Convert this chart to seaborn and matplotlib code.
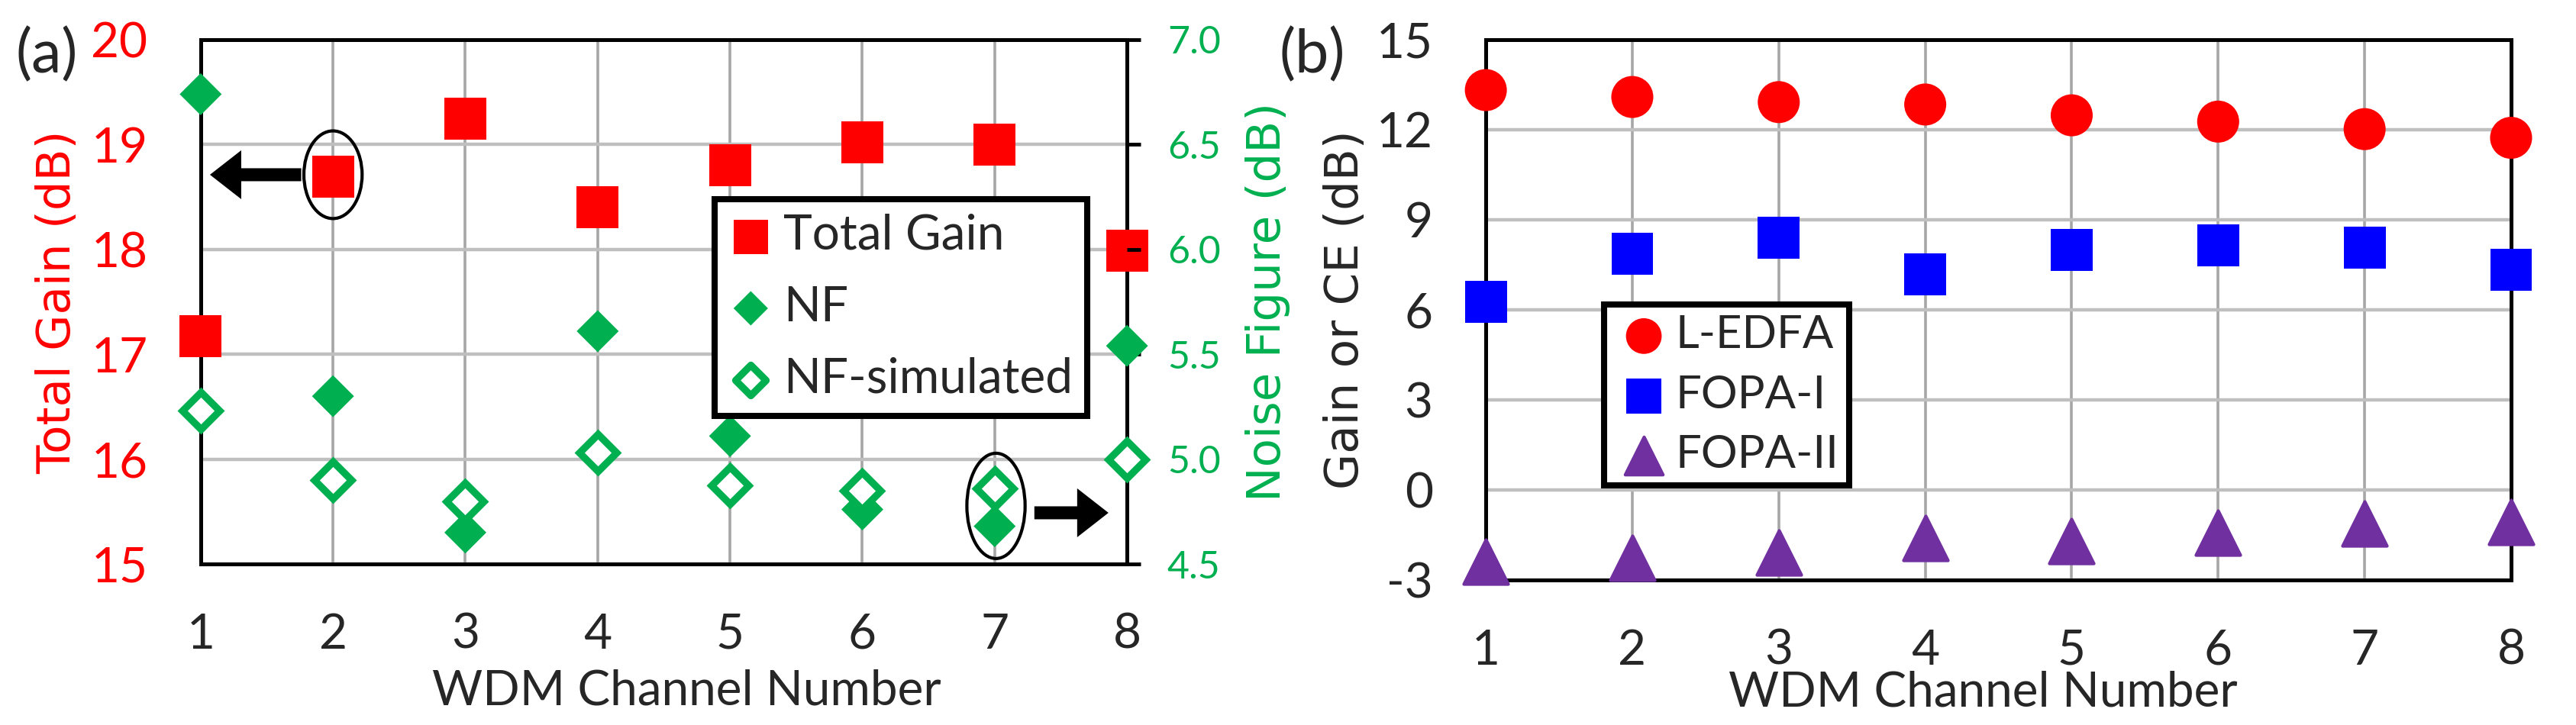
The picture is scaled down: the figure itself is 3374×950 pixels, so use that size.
import matplotlib
matplotlib.use("Agg")
import matplotlib.pyplot as plt
import seaborn as sns
from matplotlib.patches import Ellipse
from matplotlib.ticker import FormatStrFormatter

# ---- data ----
channels = [1, 2, 3, 4, 5, 6, 7, 8]

# panel (a)
total_gain = [17.17, 18.69, 19.25, 18.40, 18.80, 19.02, 19.00, 17.99]
nf = [6.74, 5.30, 4.65, 5.61, 5.11, 4.76, 4.68, 5.54]
nf_sim = [5.23, 4.90, 4.80, 5.03, 4.875, 4.85, 4.86, 5.00]

# panel (b)
l_edfa = [13.32, 13.09, 12.92, 12.84, 12.48, 12.27, 12.02, 11.73]
fopa_1 = [6.26, 7.87, 8.41, 7.19, 7.99, 8.15, 8.08, 7.33]
fopa_2 = [-2.38, -2.27, -2.09, -1.61, -1.70, -1.42, -1.12, -1.07]

gain_ticks = [15, 16, 17, 18, 19, 20]
nf_ticks = [4.5, 5.0, 5.5, 6.0, 6.5, 7.0]
ce_ticks = [-3, 0, 3, 6, 9, 12, 15]

RED = "#FF0000"
GREEN = "#00B050"
BLUE = "#0000FF"
PURPLE = "#7030A0"
HGRID = "#BFBFBF"
VGRID = "#A6A6A6"

sns.set_style("white")
plt.rcParams["font.family"] = ["Lato", "DejaVu Sans"]
plt.rcParams["axes.unicode_minus"] = False

TICK_FS = 46
LABEL_FS = 46
YLABEL_FS = 44
SPINE_LW = 3.6


def style_axes(ax):
    for sp in ax.spines.values():
        sp.set_color("black")
        sp.set_linewidth(SPINE_LW)
    ax.set_xlim(1, 8)
    ax.set_xticks(channels)
    ax.tick_params(axis="both", length=0, labelsize=TICK_FS)
    ax.tick_params(axis="x", pad=46)
    ax.tick_params(axis="y", pad=50)
    ax.xaxis.grid(True, color=VGRID, lw=2.6)
    ax.yaxis.grid(True, color=HGRID, lw=3.2)
    ax.set_axisbelow(True)


def style_legend(leg):
    frame = leg.get_frame()
    frame.set_edgecolor("black")
    frame.set_linewidth(5.8)
    frame.set_alpha(1)
    leg.set_zorder(10)


fig = plt.figure(figsize=(33.74, 9.5), dpi=100)

# ---------------- (a) ----------------
ax = fig.add_axes([0.0779, 0.2221, 0.3596, 0.7232])
style_axes(ax)
ax.set_ylim(15, 20)
ax.set_yticks(gain_ticks)
ax.tick_params(axis="y", labelcolor=RED)

sns.scatterplot(x=channels, y=total_gain, marker="s", s=1570, color=RED,
                edgecolor="none", linewidth=0, clip_on=False, zorder=5,
                label="Total Gain", ax=ax, legend=False)

ax2 = ax.twinx()
ax2.set_ylim(4.5, 7.0)
ax2.set_yticks(nf_ticks)
ax2.yaxis.set_major_formatter(FormatStrFormatter("%.1f"))
for sp in ax2.spines.values():
    sp.set_visible(False)
ax2.tick_params(axis="y", direction="out", length=13, width=3.5, color="black",
                labelcolor=GREEN, labelsize=36, pad=25)

sns.scatterplot(x=channels, y=nf, marker="D", s=784, color=GREEN,
                edgecolor="none", linewidth=0, clip_on=False, zorder=5,
                label="NF", ax=ax2, legend=False)
sns.scatterplot(x=channels, y=nf_sim, marker="D", s=612, color="white",
                edgecolor=GREEN, linewidth=6.8, clip_on=False, zorder=5,
                label="NF-simulated", ax=ax2, legend=False)
ax2.collections[-1].set_joinstyle("miter")

ax.set_xlabel("WDM Channel Number", fontsize=LABEL_FS)
ax.xaxis.set_label_coords(0.525, -0.2)
ax.set_ylabel("Total Gain (dB)", fontsize=YLABEL_FS, color=RED,
              family="DejaVu Sans")
ax.yaxis.set_label_coords(-0.154, 0.5)
ax.yaxis.label.set_verticalalignment("center")
ax2.set_ylabel("Noise Figure (dB)", fontsize=YLABEL_FS, color=GREEN,
               family="DejaVu Sans")
ax2.yaxis.set_label_coords(1.152, 0.5)
ax2.yaxis.label.set_verticalalignment("center")
ax2.yaxis.label.set_rotation(90)

# circles and arrows marking which axis each series belongs to
for xy, w, h in [((2.0, 6.356), 0.44, 0.418), ((7.01, 4.777), 0.44, 0.502)]:
    ax2.add_patch(Ellipse(xy, w, h, fill=False, ec="black", lw=3,
                          clip_on=False, zorder=6))
arrow_style = "simple,head_length=0.41,head_width=0.64,tail_width=0.17"
for tip, tail in [((1.07, 6.356), (1.76, 6.356)), ((7.86, 4.744), (7.30, 4.744))]:
    ax2.annotate("", xy=tip, xytext=tail, annotation_clip=False, zorder=6,
                 arrowprops=dict(arrowstyle=arrow_style, mutation_scale=72,
                                 fc="black", ec="none", lw=0,
                                 shrinkA=0, shrinkB=0))

h1, l1 = ax.get_legend_handles_labels()
h2, l2 = ax2.get_legend_handles_labels()
leg = ax2.legend(h1 + h2, l1 + l2, loc="upper left",
                 bbox_to_anchor=(0.555, 0.696), borderaxespad=0,
                 fontsize=46, markerscale=0.82, frameon=True, fancybox=False,
                 framealpha=1, borderpad=0.3, labelspacing=0.56,
                 handlelength=0.875, handletextpad=0.23)
style_legend(leg)

fig.text(0.006, 0.962, "(a)", fontsize=57, ha="left", va="top")

# ---------------- (b) ----------------
bx = fig.add_axes([0.5768, 0.2, 0.398, 0.7453])
style_axes(bx)
bx.set_ylim(-3, 15)
bx.set_yticks(ce_ticks)

sns.scatterplot(x=channels, y=l_edfa, marker="o", s=1570, color=RED,
                edgecolor="none", linewidth=0, clip_on=False, zorder=5,
                label="L-EDFA", ax=bx, legend=False)
sns.scatterplot(x=channels, y=fopa_1, marker="s", s=1560, color=BLUE,
                edgecolor="none", linewidth=0, clip_on=False, zorder=5,
                label="FOPA-I", ax=bx, legend=False)
sns.scatterplot(x=channels, y=fopa_2, marker="^", s=1750, color=PURPLE,
                edgecolor=PURPLE, linewidth=3, clip_on=False, zorder=5,
                label="FOPA-II", ax=bx, legend=False)
bx.collections[-1].set_joinstyle("round")

bx.set_xlabel("WDM Channel Number", fontsize=LABEL_FS)
bx.xaxis.set_label_coords(0.485, -0.168)
bx.set_ylabel("Gain or CE (dB)", fontsize=YLABEL_FS, family="DejaVu Sans")
bx.yaxis.set_label_coords(-0.137, 0.5)
bx.yaxis.label.set_verticalalignment("center")

leg_b = bx.legend(loc="upper left", bbox_to_anchor=(0.1154, 0.510),
                  borderaxespad=0, fontsize=43, markerscale=0.85,
                  frameon=True, fancybox=False, framealpha=1, borderpad=0.22,
                  labelspacing=0.41, handlelength=1.3, handletextpad=0.05)
style_legend(leg_b)

fig.text(0.4965, 0.962, "(b)", fontsize=57, ha="left", va="top")

fig.savefig("out.png", dpi=100)
